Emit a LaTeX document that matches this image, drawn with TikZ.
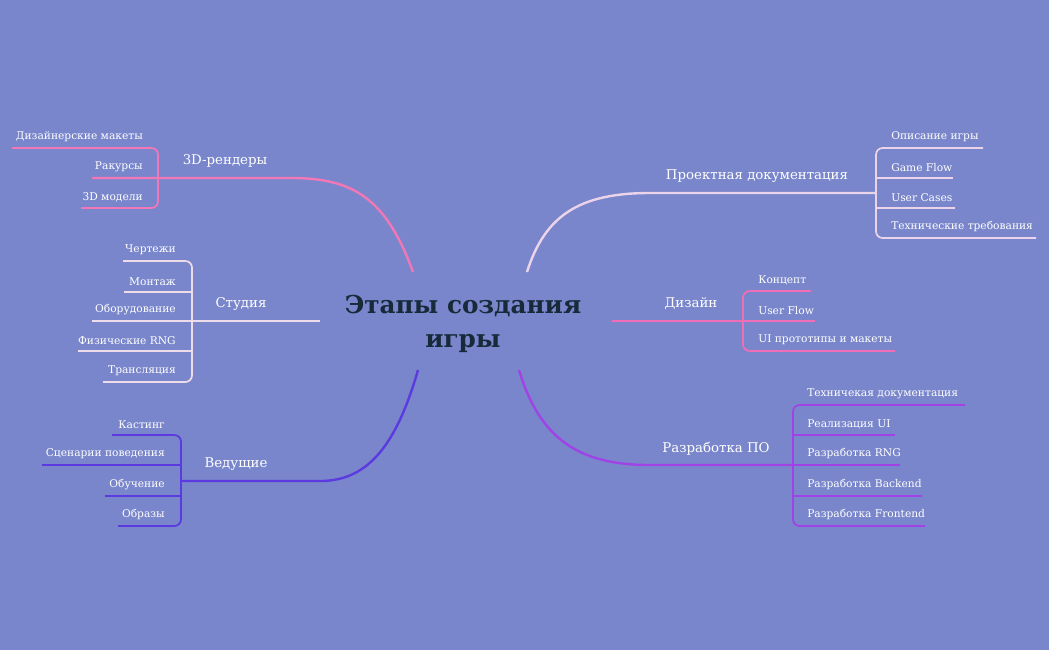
\documentclass[tikz,border=0pt]{standalone}
\usepackage{fontspec}
\setmainfont{DejaVu Serif}
\begin{document}
\begin{tikzpicture}[x=0.75pt,y=-0.75pt,
  lbl/.style={text=white,font=\fontsize{8}{9}\selectfont,inner sep=0pt},
  br/.style={text=white,font=\fontsize{10}{12}\selectfont,inner sep=0pt},
  ln/.style={line width=1.3pt},
  lnb/.style={line width=1.8pt}]
\definecolor{bg}{HTML}{7986CB}
\definecolor{cpink}{HTML}{F277B6}
\definecolor{cstud}{HTML}{EEDCEB}
\definecolor{cved}{HTML}{5B3BE0}
\definecolor{cdoc}{HTML}{EBD3EA}
\definecolor{cdes}{HTML}{F06EB5}
\definecolor{cdev}{HTML}{A142E6}
\fill[bg] (0,0) rectangle (1049,650);
\useasboundingbox (0,0) rectangle (1049,650);
\node[text={rgb,255:red,22;green,42;blue,58},font=\bfseries\fontsize{18.5}{25}\selectfont,align=center] (c) at (463,324) {Этапы создания\\игры};
% 3D-рендеры
\node[br] (r3) at (225,161) {3D-рендеры};
\coordinate (r3e) at (92,178);
\draw[lnb,cpink] (413,272) .. controls (385,195) and (350,178) .. (290,178) -- (r3e);
\draw[ln,cpink,rounded corners=5] (12,148) -- (158,148) -- (158,208) -- (81,208);
\node[lbl,anchor=south east] (a1) at (143,142) {Дизайнерские макеты};
\node[lbl,anchor=south east] (a2) at (143,172) {Ракурсы};
\node[lbl,anchor=south east] (a3) at (143,202) {3D модели};
% Студия
\node[br] (st) at (241,304) {Студия};
\draw[lnb,cstud] (320,321) -- (192,321);
\draw[ln,cstud,rounded corners=5] (123,261) -- (192,261) -- (192,382) -- (103,382);
\draw[ln,cstud] (124,292) -- (192,292) (92,321) -- (192,321) (78,351) -- (192,351);
\node[lbl,anchor=south east] (s1) at (176,255) {Чертежи};
\node[lbl,anchor=south east] (s2) at (176,286) {Монтаж};
\node[lbl,anchor=south east] (s3) at (176,315) {Оборудование};
\node[lbl,anchor=south east] (s4) at (176,345) {Физические RNG};
\node[lbl,anchor=south east] (s5) at (176,376) {Трансляция};
% Ведущие
\node[br] (vd) at (236,464) {Ведущие};
\draw[lnb,cved] (418,370) .. controls (395,450) and (365,481) .. (320,481) -- (181,481);
\draw[ln,cved,rounded corners=5] (112,435) -- (181,435) -- (181,526) -- (118,526);
\draw[ln,cved] (42,465) -- (181,465) (105,496) -- (181,496);
\node[lbl,anchor=south east] (v1) at (165,429) {Кастинг};
\node[lbl,anchor=south east] (v2) at (165,459) {Сценарии поведения};
\node[lbl,anchor=south east] (v3) at (165,490) {Обучение};
\node[lbl,anchor=south east] (v4) at (165,520) {Образы};
% Проектная документация
\node[br] (pd) at (757,176) {Проектная документация};
\draw[lnb,cdoc] (527,272) .. controls (545,215) and (580,193) .. (650,193) -- (876,193);
\draw[ln,cdoc,rounded corners=5] (983,148) -- (876,148) -- (876,238) -- (1036,238);
\draw[ln,cdoc] (876,178) -- (953,178) (876,208) -- (955,208);
\node[lbl,anchor=south west] (p1) at (891,142) {Описание игры};
\node[lbl,anchor=south west] (p2) at (891,172) {Game Flow};
\node[lbl,anchor=south west] (p3) at (891,202) {User Cases};
\node[lbl,anchor=south west] (p4) at (891,232) {Технические требования};
% Дизайн
\node[br] (ds) at (691,304) {Дизайн};
\draw[lnb,cdes] (612,321) -- (743,321);
\draw[ln,cdes,rounded corners=5] (811,291) -- (743,291) -- (743,351) -- (895,351);
\draw[ln,cdes] (743,321) -- (815,321);
\node[lbl,anchor=south west] (d1) at (758,285) {Концепт};
\node[lbl,anchor=south west] (d2) at (758,315) {User Flow};
\node[lbl,anchor=south west] (d3) at (758,345) {UI прототипы и макеты};
% Разработка ПО
\node[br] (rp) at (716,449) {Разработка ПО};
\draw[lnb,cdev] (519,370) .. controls (540,440) and (580,465) .. (650,465) -- (793,465);
\draw[ln,cdev,rounded corners=5] (965,405) -- (793,405) -- (793,526) -- (925,526);
\draw[ln,cdev] (793,435) -- (895,435) (793,465) -- (900,465) (793,496) -- (922,496);
\node[lbl,anchor=south west] (e1) at (807,399) {Техничекая документация};
\node[lbl,anchor=south west] (e2) at (807,429) {Реализация UI};
\node[lbl,anchor=south west] (e3) at (807,459) {Разработка RNG};
\node[lbl,anchor=south west] (e4) at (807,490) {Разработка Backend};
\node[lbl,anchor=south west] (e5) at (807,520) {Разработка Frontend};
\end{tikzpicture}
\end{document}
